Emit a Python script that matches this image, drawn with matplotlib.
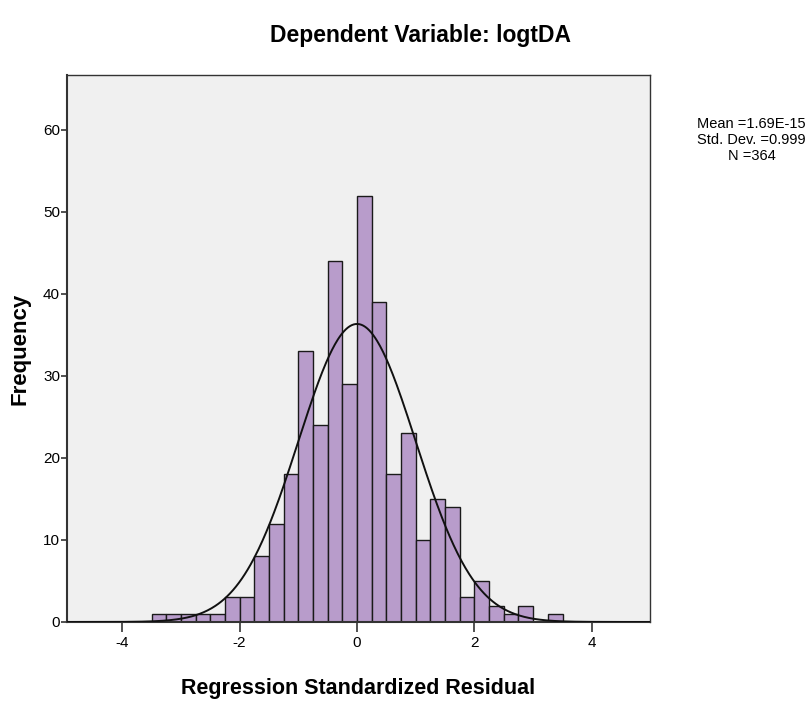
import numpy as np
import matplotlib
matplotlib.use("Agg")
import matplotlib.pyplot as plt

# Data
bin_start = -3.5
bin_width = 0.25
counts = [1, 1, 1, 1, 1, 3, 3, 8, 12, 18, 33, 24, 44, 29, 52, 39,
          18, 23, 10, 15, 14, 3, 5, 2, 1, 2, 0, 1]
mean_val = 1.69e-15
std_val = 0.999
n_val = 364
xticks = [-4, -2, 0, 2, 4]
yticks = [0, 10, 20, 30, 40, 50, 60]

narrow = ['Liberation Sans Narrow', 'Liberation Sans', 'DejaVu Sans']
wide = ['Liberation Sans', 'DejaVu Sans']

fig = plt.figure(figsize=(8.11, 7.04), dpi=100)
ax = fig.add_axes([0.0826, 0.1165, 0.7189, 0.777])
ax.set_facecolor('#f0f0f0')

edges = bin_start + bin_width * np.arange(len(counts))
ax.bar(edges, counts, width=bin_width, align='edge', color='#b89ccb',
       edgecolor='#1a1a1a', linewidth=1.0, zorder=2)

xs = np.linspace(-5, 5, 600)
ys = n_val * bin_width / (std_val * np.sqrt(2 * np.pi)) * np.exp(-0.5 * ((xs - mean_val) / std_val) ** 2)
ax.plot(xs, ys, color='#111111', linewidth=1.4, zorder=3)

ax.set_xlim(-4.94, 4.99)
ax.set_ylim(0, 66.7)
ax.set_xticks(xticks)
ax.set_yticks(yticks)
ax.set_xticklabels([str(t) for t in xticks], family=narrow, fontsize=11)
ax.set_yticklabels([str(t) for t in yticks], family=narrow, fontsize=11)
ax.tick_params(axis='x', direction='out', length=7, width=1.2, color='#333333', pad=3)
ax.tick_params(axis='y', direction='out', length=4, width=1.2, color='#333333', pad=1)
for s in ax.spines.values():
    s.set_color('#333333')
    s.set_linewidth(1.0)
ax.spines['left'].set_linewidth(1.5)
ax.spines['bottom'].set_linewidth(1.5)

ax.set_xlabel('Regression Standardized Residual', family=narrow, fontsize=15.5,
              fontweight='bold', labelpad=20)
ax.set_ylabel('Frequency', family=wide, fontsize=16, fontweight='bold', labelpad=9)

fig.text(0.518, 0.95, 'Dependent Variable: logtDA', family=narrow, fontsize=16.5,
         fontweight='bold', ha='center', va='center')

fig.text(0.927, 0.801, 'Mean =1.69E-15\nStd. Dev. =0.999\nN =364', family=narrow,
         fontsize=10.5, ha='center', va='center', linespacing=1.15)

fig.savefig('out.png', dpi=100)
